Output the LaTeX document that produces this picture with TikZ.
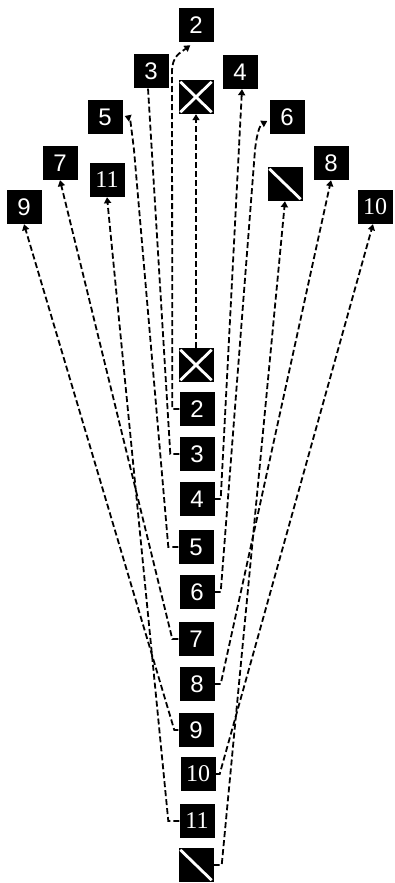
\documentclass[tikz,border=0pt]{standalone}
\usepackage{fontspec}
\setmainfont{Liberation Sans}
\newfontfamily\serifdigits{Liberation Serif}
\usetikzlibrary{arrows.meta,calc}
\begin{document}
\begin{tikzpicture}[x=1pt,y=-1pt,
  box/.style={fill=black,text=white,minimum width=35pt,minimum height=34pt,inner sep=0pt,
    font=\fontsize{24}{24}\selectfont},
  conn/.style={line width=1.8pt,dash pattern=on 6pt off 3pt},
  arr/.style={conn,-{Triangle[width=7pt,length=6pt]}},
  boxmark/.style={white,line width=2.8pt}]
\useasboundingbox (0,0) rectangle (395,883);
% top nodes
\node[box] (t2) at (196,25) {2};
\node[box] (t3) at (151,71) {3};
\node[box] (tX) at (196,97) {};
\node[box] (t4) at (240,72) {4};
\node[box] (t5) at (105,117) {5};
\node[box] (t6) at (287,117) {6};
\node[box] (t7) at (60,163) {7};
\node[box] (t11) at (107,180) {\serifdigits 11};
\node[box] (tS) at (285,184) {};
\node[box] (t8) at (331,163) {8};
\node[box] (t9) at (24,207) {9};
\node[box] (t10) at (375,207) {\serifdigits 10};
% bottom column
\node[box] (bX) at (196,365) {};
\node[box] (b2) at (197,409) {2};
\node[box] (b3) at (197,454) {3};
\node[box] (b4) at (197,499) {4};
\node[box] (b5) at (196,547) {5};
\node[box] (b6) at (197,592) {6};
\node[box] (b7) at (196,639) {7};
\node[box] (b8) at (197,684) {8};
\node[box] (b9) at (196,730) {9};
\node[box] (b10) at (198,774) {\serifdigits 10};
\node[box] (b11) at (197,821) {\serifdigits 11};
\node[box] (bS) at (196,865) {};
% marks inside boxes
\draw[boxmark] ($(tX.north west)+(2,2)$) -- ($(tX.south east)+(-2,-2)$);
\draw[boxmark] ($(tX.south west)+(2,-2)$) -- ($(tX.north east)+(-2,2)$);
\draw[boxmark] ($(bX.north west)+(2,2)$) -- ($(bX.south east)+(-2,-2)$);
\draw[boxmark] ($(bX.south west)+(2,-2)$) -- ($(bX.north east)+(-2,2)$);
\draw[boxmark] ($(tS.north west)+(2,2)$) -- ($(tS.south east)+(-2,-2)$);
\draw[boxmark] ($(bS.north west)+(2,2)$) -- ($(bS.south east)+(-2,-2)$);
% connectors
\draw[arr] (bX.north) -- (tX.south);
\draw[arr] (b2.west) -- ++(-7,0) -- (172,72) .. controls (172,56) and (180,53) .. ($(t2.south west)+(12,3)$);
\draw[conn] (b3.west) -- ++(-9,0) -- ($(t3.south)+(-3,0)$);
\draw[arr] (b4.east) -- ++(6,0) -- ($(t4.south)+(2,0)$);
\draw[arr] (b5.west) -- ++(-10,0) -- (134,150) .. controls (131,125) and (130,118) .. ($(t5.east)+(2,-1)$);
\draw[arr] (b6.east) -- ++(6,0) -- (255,150) .. controls (257,132) and (260,125) .. ($(t6.west)+(-2,4)$);
\draw[arr] (b7.west) -- ++(-6,0) -- (t7.south);
\draw[arr] (b8.east) -- ++(6,0) -- (t8.south);
\draw[arr] (b9.west) -- ++(-4,0) -- (t9.south);
\draw[arr] (b10.east) -- ++(4,0) -- ($(t10.south)+(-2,0)$);
\draw[arr] (b11.west) -- ++(-11,0) -- (t11.south);
\draw[arr] (bS.east) -- ++(8,0) -- (tS.south);
\end{tikzpicture}
\end{document}
